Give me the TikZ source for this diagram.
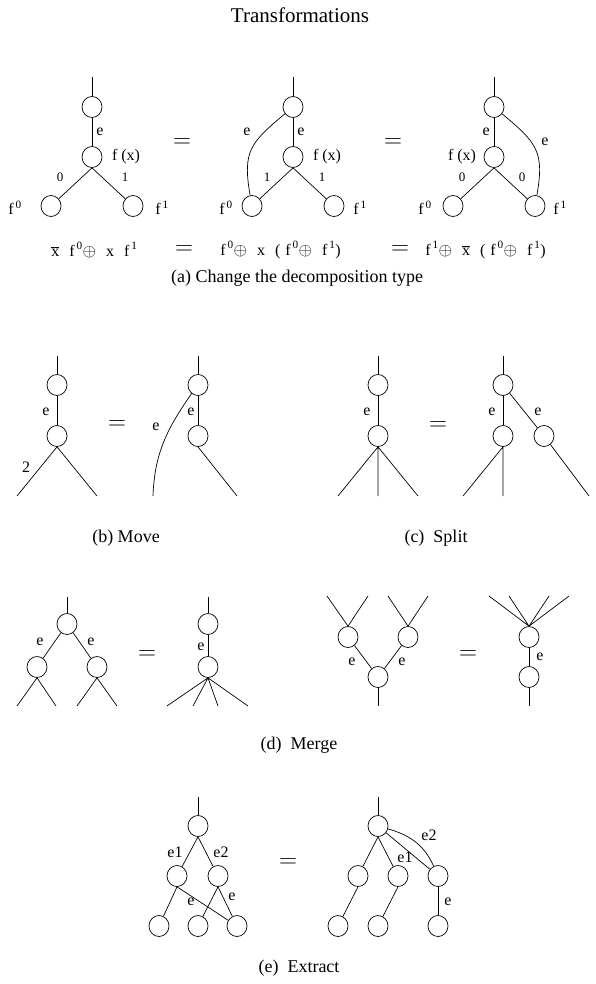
\documentclass[tikz,border=0pt]{standalone}
\usepackage{fontspec}
\setmainfont{Liberation Serif}
\usetikzlibrary{shapes.geometric}
\newcommand{\fs}[1]{f\textsuperscript{\,#1}}
\newcommand{\xb}{$\overline{\mbox{x}}$}
\newcommand{\fgap}{\hspace{10pt}}
\tikzset{
    vtx/.style={draw, ellipse, minimum width=20pt, minimum height=21pt, inner sep=0pt},
    lbl/.style={inner sep=0pt, font=\fontsize{16}{18}\selectfont},
    sml/.style={inner sep=0pt, font=\fontsize{13}{15}\selectfont},
    eqs/.style={inner sep=0pt, font=\fontsize{26}{28}\selectfont},
    capt/.style={inner sep=0pt, font=\fontsize{18}{20}\selectfont},
    ttl/.style={inner sep=0pt, font=\fontsize{21}{24}\selectfont}
}
\begin{document}
\begin{tikzpicture}[x=1pt, y=1pt, line width=0.7pt]
            \useasboundingbox (0,0) rectangle (595,-984);
            \node[ttl] (title) at (300,-15) {Transformations};
            % (a) decomposition type
            \coordinate (a1o) at (92,-77);
            \node[vtx] (a1t) at (92,-107) {};
            \node[vtx] (a1m) at (92,-157) {};
            \node[vtx] (a1l) at (51,-206) {};
            \node[vtx] (a1r) at (133,-206) {};
            \draw (a1o) -- (a1t) -- (a1m);
            \draw (a1m.south) -- (a1l) (a1m.south) -- (a1r);
            \node[lbl, anchor=west] (a1e) at (96,-132) {e};
            \node[lbl] (a1fx) at (126,-157) {f (x)};
            \node[sml] (a1z) at (60,-177) {0};
            \node[sml] (a1u) at (125,-177) {1};
            \node[lbl] (a1f0) at (15,-208) {\fs0};
            \node[lbl] (a1f1) at (162,-208) {\fs1};
            \node[eqs] (aeq1) at (182,-143) {$=$};
            \coordinate (a2o) at (293,-77);
            \node[vtx] (a2t) at (293,-107) {};
            \node[vtx] (a2m) at (293,-157) {};
            \node[vtx] (a2l) at (252,-206) {};
            \node[vtx] (a2r) at (334,-206) {};
            \draw (a2o) -- (a2t) -- (a2m);
            \draw (a2m.south) -- (a2l) (a2m.south) -- (a2r);
            \draw (a2t) to[out=220, in=100, looseness=1.3] (a2l);
            \node[lbl, anchor=west] (a2e) at (297,-132) {e};
            \node[lbl] (a2ee) at (247,-132) {e};
            \node[lbl] (a2fx) at (327,-157) {f (x)};
            \node[sml] (a2z) at (267,-177) {1};
            \node[sml] (a2u) at (322,-177) {1};
            \node[lbl] (a2f0) at (226,-208) {\fs0};
            \node[lbl] (a2f1) at (360,-208) {\fs1};
            \node[eqs] (aeq2) at (393,-143) {$=$};
            \coordinate (a3o) at (494,-77);
            \node[vtx] (a3t) at (494,-107) {};
            \node[vtx] (a3m) at (494,-157) {};
            \node[vtx] (a3l) at (453,-206) {};
            \node[vtx] (a3r) at (535,-206) {};
            \draw (a3o) -- (a3t) -- (a3m);
            \draw (a3m.south) -- (a3l) (a3m.south) -- (a3r);
            \draw (a3t) to[out=-40, in=80, looseness=1.3] (a3r);
            \node[lbl, anchor=east] (a3e) at (490,-132) {e};
            \node[lbl] (a3ee) at (545,-142) {e};
            \node[lbl] (a3fx) at (462,-157) {f (x)};
            \node[sml] (a3z) at (462,-177) {0};
            \node[sml] (a3u) at (522,-177) {0};
            \node[lbl] (a3f0) at (425,-208) {\fs0};
            \node[lbl] (a3f1) at (560,-208) {\fs1};
            \node[lbl, anchor=west] (frm1) at (51,-250) {\xb\fgap\fs0$\oplus$\fgap x\fgap\fs1};
            \node[eqs] (feq1) at (184,-250) {$=$};
            \node[lbl, anchor=west] (frm2) at (220,-250) {\fs0$\oplus$\fgap x\fgap(\hspace{5pt}\fs0$\oplus$\fgap\fs1)};
            \node[eqs] (feq2) at (400,-250) {$=$};
            \node[lbl, anchor=west] (frm3) at (425,-250) {\fs1$\oplus$\fgap\xb\fgap(\hspace{5pt}\fs0$\oplus$\fgap\fs1)};
            \node[capt] (capa) at (297,-278) {(a) Change the decomposition type};
            % (b) move
            \coordinate (b1o) at (57,-356);
            \node[vtx] (b1t) at (57,-385) {};
            \node[vtx] (b1m) at (57,-436) {};
            \coordinate (b1x) at (17,-496);
            \coordinate (b1y) at (97,-496);
            \draw (b1o) -- (b1t) -- (b1m);
            \draw (b1m.south) -- (b1x) (b1m.south) -- (b1y);
            \node[lbl] (b1e) at (46,-412) {e};
            \node[lbl] (b1n) at (26,-467) {2};
            \node[eqs] (beq) at (117,-425) {$=$};
            \coordinate (b2o) at (198,-356);
            \node[vtx] (b2t) at (198,-385) {};
            \node[vtx] (b2m) at (198,-436) {};
            \coordinate (b2s) at (192,-393);
            \coordinate (b2x) at (153,-496);
            \coordinate (b2y) at (237,-496);
            \draw (b2o) -- (b2t) -- (b2m);
            \draw (b2m.south) -- (b2y);
            \draw (b2s) to[out=235, in=88] (b2x);
            \node[lbl] (b2e) at (191,-412) {e};
            \node[lbl] (b2ee) at (156,-427) {e};
            \node[capt] (capb) at (126,-538) {(b) Move};
            % (c) split
            \coordinate (c1o) at (378,-356);
            \node[vtx] (c1t) at (378,-385) {};
            \node[vtx] (c1m) at (378,-436) {};
            \coordinate (c1x) at (338,-496);
            \coordinate (c1y) at (378,-496);
            \coordinate (c1z) at (418,-496);
            \draw (c1o) -- (c1t) -- (c1m);
            \draw (c1m.south) -- (c1x) (c1m.south) -- (c1y) (c1m.south) -- (c1z);
            \node[lbl] (c1e) at (367,-412) {e};
            \node[eqs] (ceq) at (438,-426) {$=$};
            \coordinate (c2o) at (503,-356);
            \node[vtx] (c2t) at (503,-385) {};
            \node[vtx] (c2m) at (503,-436) {};
            \node[vtx] (c2r) at (544,-436) {};
            \coordinate (c2x) at (463,-496);
            \coordinate (c2y) at (503,-496);
            \coordinate (c2z) at (589,-496);
            \draw (c2o) -- (c2t) -- (c2m);
            \draw (c2t) -- (c2r);
            \draw (c2m.south) -- (c2x) (c2m.south) -- (c2y);
            \draw (c2r) -- (c2z);
            \node[lbl] (c2e) at (492,-412) {e};
            \node[lbl] (c2ee) at (538,-412) {e};
            \node[capt] (capc) at (436,-538) {(c)\ \ Split};
            % (d) merge
            \coordinate (d1o) at (67,-597);
            \node[vtx] (d1t) at (67,-624) {};
            \node[vtx] (d1l) at (37,-667) {};
            \node[vtx] (d1r) at (97,-667) {};
            \coordinate (d1a) at (17,-706);
            \coordinate (d1b) at (56,-706);
            \coordinate (d1c) at (77,-706);
            \coordinate (d1d) at (117,-706);
            \draw (d1o) -- (d1t);
            \draw (d1t) -- (d1l) (d1t) -- (d1r);
            \draw (d1l.south) -- (d1a) (d1l.south) -- (d1b);
            \draw (d1r.south) -- (d1c) (d1r.south) -- (d1d);
            \node[lbl] (d1e) at (40,-642) {e};
            \node[lbl] (d1ee) at (91,-642) {e};
            \node[eqs] (deq1) at (147,-655) {$=$};
            \coordinate (d2o) at (208,-597);
            \node[vtx] (d2t) at (208,-624) {};
            \node[vtx] (d2m) at (208,-667) {};
            \coordinate (d2a) at (167,-706);
            \coordinate (d2b) at (193,-706);
            \coordinate (d2c) at (218,-706);
            \coordinate (d2d) at (248,-706);
            \draw (d2o) -- (d2t) -- (d2m);
            \draw (d2m.south) -- (d2a) (d2m.south) -- (d2b) (d2m.south) -- (d2c) (d2m.south) -- (d2d);
            \node[lbl] (d2e) at (201,-647) {e};
            \coordinate (d3a) at (327,-596);
            \coordinate (d3b) at (368,-596);
            \coordinate (d3c) at (388,-596);
            \coordinate (d3d) at (428,-596);
            \node[vtx] (d3l) at (348,-637) {};
            \node[vtx] (d3r) at (408,-637) {};
            \node[vtx] (d3m) at (378,-677) {};
            \coordinate (d3o) at (378,-706);
            \draw (d3l.north) -- (d3a) (d3l.north) -- (d3b);
            \draw (d3r.north) -- (d3c) (d3r.north) -- (d3d);
            \draw (d3l) -- (d3m) (d3r) -- (d3m);
            \draw (d3m) -- (d3o);
            \node[lbl] (d3e) at (352,-662) {e};
            \node[lbl] (d3ee) at (402,-662) {e};
            \node[eqs] (deq2) at (468,-655) {$=$};
            \coordinate (d4a) at (489,-596);
            \coordinate (d4b) at (509,-596);
            \coordinate (d4c) at (549,-596);
            \coordinate (d4d) at (569,-596);
            \node[vtx] (d4t) at (529,-637) {};
            \node[vtx] (d4m) at (529,-677) {};
            \coordinate (d4o) at (529,-706);
            \draw (d4t.north) -- (d4a) (d4t.north) -- (d4b) (d4t.north) -- (d4c) (d4t.north) -- (d4d);
            \draw (d4t) -- (d4m) -- (d4o);
            \node[lbl] (d4e) at (540,-657) {e};
            \node[capt] (capd) at (299,-745) {(d)\ \ Merge};
            % (e) extract
            \coordinate (e1o) at (198,-797);
            \node[vtx] (e1t) at (198,-826) {};
            \node[vtx] (e1a) at (177,-876) {};
            \node[vtx] (e1b) at (218,-876) {};
            \node[vtx] (e1p) at (159,-926) {};
            \node[vtx] (e1q) at (198,-926) {};
            \node[vtx] (e1r) at (237,-926) {};
            \draw (e1o) -- (e1t);
            \draw (e1t.south) -- (e1a) (e1t.south) -- (e1b);
            \draw (e1a.south) -- (e1p) (e1a.south) -- (e1r);
            \draw (e1b.south) -- (e1q) (e1b.south) -- (e1r);
            \node[lbl] (e1l) at (175,-852) {e1};
            \node[lbl] (e1ll) at (221,-852) {e2};
            \node[lbl] (e1e) at (191,-902) {e};
            \node[lbl] (e1ee) at (232,-897) {e};
            \node[eqs] (eeq) at (288,-863) {$=$};
            \coordinate (e2o) at (378,-797);
            \node[vtx] (e2t) at (378,-826) {};
            \node[vtx] (e2a) at (358,-876) {};
            \node[vtx] (e2b) at (398,-876) {};
            \node[vtx] (e2c) at (438,-876) {};
            \node[vtx] (e2p) at (338,-926) {};
            \node[vtx] (e2q) at (378,-926) {};
            \node[vtx] (e2r) at (438,-926) {};
            \draw (e2o) -- (e2t);
            \draw (e2t.south) -- (e2a) (e2t.south) -- (e2b);
            \draw (e2t) -- (e2c);
            \draw (e2t) to[out=-16, in=114] (e2c);
            \draw (e2a.south) -- (e2p) (e2b.south) -- (e2q);
            \draw (e2c) -- (e2r);
            \node[lbl] (e2l) at (405,-857) {e1};
            \node[lbl] (e2ll) at (429,-835) {e2};
            \node[lbl] (e2e) at (448,-902) {e};
            \node[capt] (cape) at (299,-968) {(e)\ \ Extract};
\end{tikzpicture}
\end{document}
